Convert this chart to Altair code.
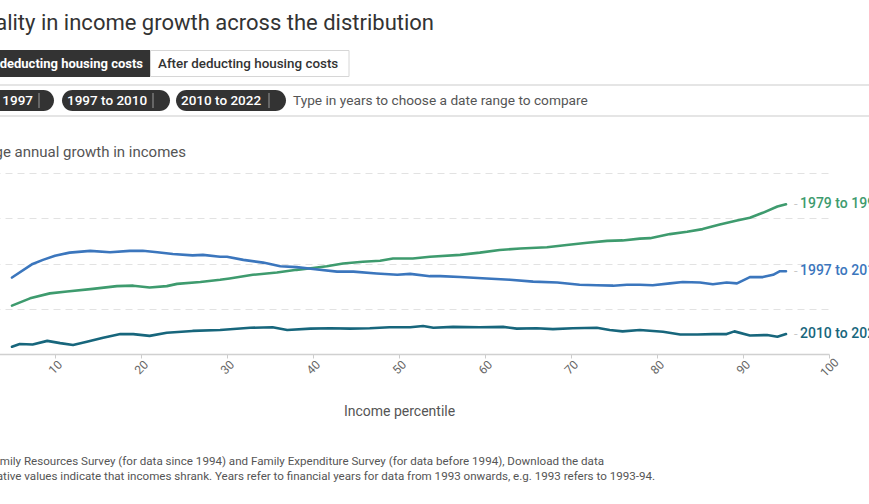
import altair as alt
import pandas as pd

# ---------------- data ----------------
series_names = ["1979 to 1997", "1997 to 2010", "2010 to 2022"]
series_colors = ["#3e9b6e", "#3b76bd", "#17667c"]

green_p = [5, 7.1, 9.4, 11.4, 14.4, 17.2, 19.1, 21, 23, 24.2, 26.9, 29.2, 30.3, 33, 35.8,
           38.1, 40, 41.6, 43.5, 45.8, 47.8, 49.3, 51.6, 53.6, 57.1, 59.4, 61.7, 64.1, 67.2,
           69.5, 71.9, 74.2, 76, 78, 79.2, 81.5, 83.5, 85.3, 87.3, 89.3, 90.8, 92.3, 94, 95]
green_v = [1.07, 1.23, 1.34, 1.38, 1.44, 1.50, 1.51, 1.47, 1.50, 1.55, 1.59, 1.64, 1.67, 1.75,
           1.80, 1.86, 1.90, 1.94, 2.00, 2.04, 2.06, 2.11, 2.11, 2.15, 2.19, 2.24, 2.30, 2.33,
           2.36, 2.41, 2.46, 2.50, 2.51, 2.55, 2.56, 2.65, 2.70, 2.76, 2.86, 2.95, 3.01, 3.12,
           3.26, 3.31]

blue_p = [5, 7.4, 8.6, 10, 11.7, 14.1, 16.4, 18.7, 20.2, 21.9, 23.7, 26, 27.2, 29.2, 30, 31.9,
          34.2, 36.2, 38.1, 40, 42.8, 44.7, 47.4, 49.8, 51.3, 53.6, 54.8, 57.1, 60.2, 62.9, 65.6,
          68.4, 71, 73, 74.9, 76.5, 78, 79.5, 81.5, 83, 85, 86.5, 88.1, 89.3, 90.8, 92.3, 93.5,
          94.3, 95]
blue_v = [1.69, 1.99, 2.08, 2.17, 2.24, 2.28, 2.25, 2.28, 2.28, 2.25, 2.21, 2.18, 2.19, 2.15,
          2.15, 2.08, 2.02, 1.94, 1.92, 1.88, 1.82, 1.82, 1.78, 1.75, 1.77, 1.72, 1.72, 1.70,
          1.67, 1.64, 1.60, 1.58, 1.53, 1.52, 1.51, 1.53, 1.53, 1.52, 1.56, 1.59, 1.58, 1.54,
          1.58, 1.56, 1.70, 1.70, 1.75, 1.83, 1.83]

teal_p = [5, 5.9, 7.4, 9.1, 10.6, 12.1, 13.7, 15.6, 17.6, 19.1, 21, 23, 26, 29.2, 32.7, 35.3,
          37, 39.7, 42, 44.3, 46.6, 48.9, 51.3, 52.8, 54, 56.3, 59.4, 62.1, 63.7, 66, 67.9, 70.2,
          73, 74.5, 76, 78, 80.7, 82.7, 84.7, 86.5, 88.1, 89, 90.8, 92.8, 94, 95]
teal_v = [0.16, 0.22, 0.21, 0.29, 0.24, 0.20, 0.27, 0.36, 0.44, 0.44, 0.40, 0.47, 0.51, 0.53,
          0.58, 0.59, 0.53, 0.56, 0.57, 0.56, 0.57, 0.59, 0.59, 0.62, 0.58, 0.60, 0.59, 0.60,
          0.56, 0.57, 0.55, 0.57, 0.58, 0.53, 0.50, 0.53, 0.49, 0.43, 0.43, 0.44, 0.44, 0.50,
          0.41, 0.42, 0.38, 0.44]

x_ticks = [0, 10, 20, 30, 40, 50, 60, 70, 80, 90, 100]
y_ticks = [0, 1, 2, 3, 4]

title_text = "Inequality in income growth across the distribution"
btn_on = "Before deducting housing costs"
btn_off = "After deducting housing costs"
pill_texts = ["1979 to 1997", "1997 to 2010", "2010 to 2022"]
hint_text = "Type in years to choose a date range to compare"
y_title = "Average annual growth in incomes"
x_title = "Income percentile"
foot1 = ("Source: Family Resources Survey (for data since 1994) and Family Expenditure Survey "
         "(for data before 1994), Download the data")
foot2 = ("Note: Negative values indicate that incomes shrank. Years refer to financial years for "
         "data from 1993 onwards, e.g. 1993 refers to 1993-94.")

# ---------------- tables ----------------
frames = []
for name, ps, vs in zip(series_names, [green_p, blue_p, teal_p], [green_v, blue_v, teal_v]):
    frames.append(pd.DataFrame({"percentile": ps, "growth": vs, "series": name}))
df = pd.concat(frames, ignore_index=True)
last = df.groupby("series", sort=False).tail(1)

FONT = "Roboto"
color_scale = alt.Scale(domain=series_names, range=series_colors)
x_scale = alt.Scale(domain=[0, 100], range=[-31, 829], nice=False, zero=False)
y_scale = alt.Scale(domain=[0, 4], range=[354, 173], nice=False, zero=False)

lines = alt.Chart(df).mark_line(strokeWidth=2.6, strokeCap="round", strokeJoin="round").encode(
    x=alt.X("percentile:Q", scale=x_scale,
            axis=alt.Axis(values=x_ticks, labelAngle=-45, labelAlign="center",
                          labelBaseline="middle", labelPadding=9, labelFont=FONT,
                          labelFontSize=12, labelColor="#666", tickSize=4, tickColor="#ccc",
                          domainColor="#d0d0d0", domainWidth=1.5, grid=False,
                          title=x_title, titleFont=FONT, titleFontSize=14,
                          titleFontWeight="normal", titleColor="#555",
                          titleX=399, titleY=57, titleBaseline="middle",
                          titleAnchor="middle", titleAlign="center")),
    y=alt.Y("growth:Q", scale=y_scale,
            axis=alt.Axis(values=y_ticks, labels=False, ticks=False, domain=False,
                          grid=True, gridColor="#e2e2e2", gridDash=[7, 5], gridWidth=1,
                          title=None)),
    color=alt.Color("series:N", scale=color_scale, legend=None),
)

dash = alt.Chart(last).mark_text(text="-", align="left", baseline="middle", dx=8,
                                 fontSize=13, font=FONT, color="#c8c8c8").encode(
    x=alt.X("percentile:Q", scale=x_scale),
    y=alt.Y("growth:Q", scale=y_scale),
)
labels = alt.Chart(last).mark_text(align="left", baseline="middle", dx=14, fontSize=14,
                                   font=FONT, fontWeight=500).encode(
    x=alt.X("percentile:Q", scale=x_scale),
    y=alt.Y("growth:Q", scale=y_scale),
    text="series:N",
    color=alt.Color("series:N", scale=color_scale, legend=None),
)

one = pd.DataFrame({"k": [0]})


def txt(text, x, y, **kw):
    return alt.Chart(one).mark_text(text=text, font=FONT, baseline="middle", **kw).encode(
        x=alt.value(x), y=alt.value(y))


def rect(x, x2, y, y2, **kw):
    return alt.Chart(one).mark_rect(**kw).encode(
        x=alt.value(x), x2=alt.value(x2), y=alt.value(y), y2=alt.value(y2))


def hrule(y, x=0, x2=869, color="#dddddd", w=1.5):
    return alt.Chart(one).mark_rule(color=color, strokeWidth=w).encode(
        x=alt.value(x), x2=alt.value(x2), y=alt.value(y))


def vrule(x, y, y2, color="#9a9a9a"):
    return alt.Chart(one).mark_rule(color=color, strokeWidth=1).encode(
        x=alt.value(x), y=alt.value(y), y2=alt.value(y2))


ui = [
    txt(title_text, 434, 22.5, align="right", fontSize=22, color="#333333"),
    rect(-220, 150, 50, 77, color="#333333"),
    rect(150.5, 349, 50.5, 76.5, fill="#ffffff", stroke="#d6d6d6", strokeWidth=1),
    txt(btn_on, 143, 63.5, align="right", fontSize=13, fontWeight="bold", color="#ffffff"),
    txt(btn_off, 158, 63.5, align="left", fontSize=13.4, fontWeight=500, color="#333333"),
    hrule(85),
    hrule(116),
    rect(-120, 54, 90, 111, color="#333333", cornerRadius=10.5),
    rect(62, 170, 90, 111, color="#333333", cornerRadius=10.5),
    rect(176, 286, 90, 111, color="#333333", cornerRadius=10.5),
    txt(pill_texts[0], 33, 100.5, align="right", fontSize=13.5, fontWeight=500, color="#ffffff"),
    txt(pill_texts[1], 67, 100.5, align="left", fontSize=13.5, fontWeight=500, color="#ffffff"),
    txt(pill_texts[2], 181, 100.5, align="left", fontSize=13.5, fontWeight=500, color="#ffffff"),
    vrule(39, 93, 108),
    vrule(153, 93, 108),
    vrule(269, 93, 108),
    txt(hint_text, 293, 100.5, align="left", fontSize=13.7, color="#555555"),
    txt(y_title, 186, 152, align="right", fontSize=15, color="#555555"),
    txt(foot1, 604, 462, align="right", fontSize=11.6, color="#555555"),
    txt(foot2, 655, 477, align="right", fontSize=11.6, color="#555555"),
]

chart = alt.layer(*ui, lines, dash, labels).properties(
    width=829,
    height=354,
    autosize=alt.AutoSizeParams(type="none"),
    padding={"left": 0, "top": 0, "right": 40, "bottom": 150},
    background="#ffffff",
).configure_view(stroke=None)

chart.save("out.html", embed_options={"renderer": "svg", "actions": False})
